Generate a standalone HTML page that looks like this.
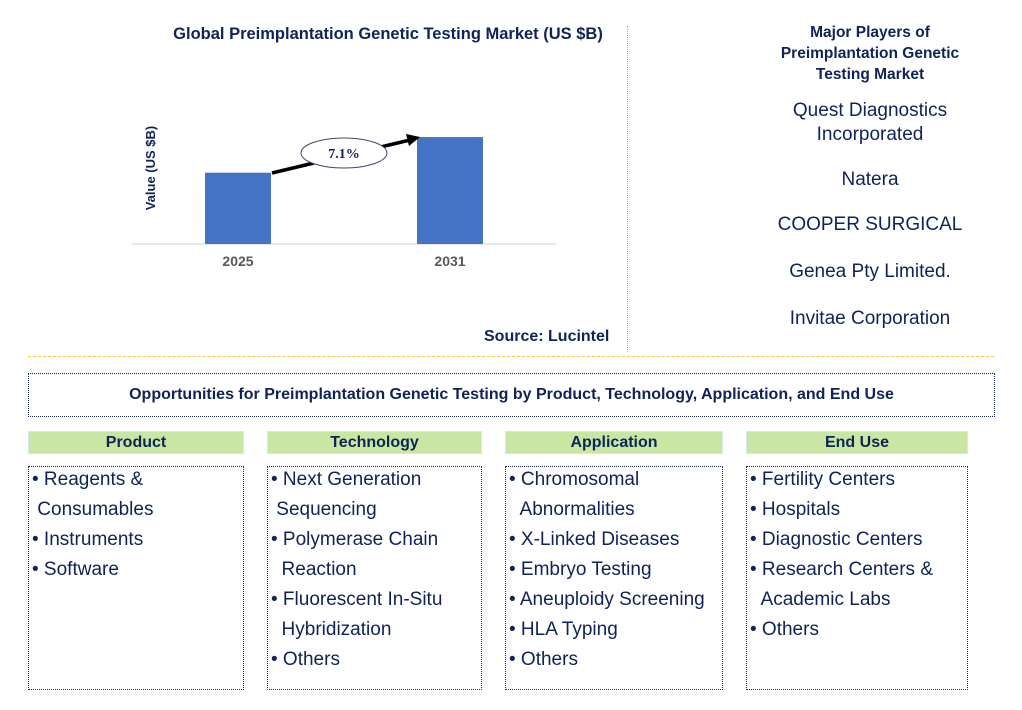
<!DOCTYPE html>
<html><head><meta charset="utf-8"><style>
body{margin:0;width:1022px;height:710px;background:#fff;font-family:"Liberation Sans",sans-serif;position:relative;overflow:hidden;color:#0f2358}
.a{position:absolute}
.hdr{position:absolute;top:431px;height:23px;background:#c9e6a3;border:1px solid #d5e4f3;box-sizing:border-box;text-align:center;font-weight:bold;font-size:16px;line-height:21px;color:#0f2358}
.box{position:absolute;top:466px;height:224px;border:1px dotted #1b2a5c;box-sizing:border-box;font-size:19px;line-height:30px;color:#0f2358;padding:0 0 0 3px}
.box div{white-space:nowrap}
.pl{position:absolute;left:735px;width:270px;text-align:center;font-size:19px;color:#0f2358;line-height:24px}
</style></head><body>
<div class="a" style="left:138px;top:25px;width:500px;text-align:center;font-weight:bold;font-size:16.5px">Global Preimplantation Genetic Testing Market (US $B)</div>
<svg class="a" style="left:0;top:0" width="630" height="350">
<line x1="132" y1="244" x2="556" y2="244" stroke="#d0d0d0"/>
<text transform="translate(155,168) rotate(-90)" text-anchor="middle" font-size="13" font-weight="bold" fill="#0f2358" font-family="Liberation Sans">Value (US $B)</text>
<g id="bars"></g>
<line x1="272" y1="173" x2="410" y2="140" stroke="#000" stroke-width="3.5"/>
<polygon points="420,137 406,134 409,146" fill="#000"/>
<ellipse cx="344" cy="153" rx="43" ry="15" fill="#fff" stroke="#3a4a6a"/>
<text x="344" y="158" text-anchor="middle" font-size="14" font-family="Liberation Serif" font-weight="bold" fill="#0f2358">7.1%</text>
</svg>
<div class="a" style="left:484px;top:328px;font-weight:bold;font-size:16px">Source: Lucintel</div>
<div class="a" style="left:627px;top:26px;height:326px;border-left:1px dotted #aaa"></div>
<div class="a" style="left:755px;top:22px;width:230px;text-align:center;font-weight:bold;font-size:15.5px;line-height:21px">Major Players of Preimplantation Genetic Testing Market</div>
<div class="pl" style="top:99px">Quest Diagnostics<br>Incorporated</div>
<div class="pl" style="top:168px">Natera</div>
<div class="pl" style="top:213px">COOPER SURGICAL</div>
<div class="pl" style="top:260px">Genea Pty Limited.</div>
<div class="pl" style="top:307px">Invitae Corporation</div>
<div class="a" style="left:28px;top:356px;width:966px;border-top:1px dashed #f5c842"></div>
<div class="a" style="left:28px;top:373px;width:967px;height:44px;border:1px dotted #1b2a5c;box-sizing:border-box;text-align:center;font-weight:bold;font-size:16px;line-height:42px">Opportunities for Preimplantation Genetic Testing by Product, Technology, Application, and End Use</div>
<div class="hdr" style="left:28px;width:216px">Product</div>
<div class="hdr" style="left:267px;width:215px">Technology</div>
<div class="hdr" style="left:505px;width:218px">Application</div>
<div class="hdr" style="left:746px;width:222px">End Use</div>
<div class="box" style="left:28px;width:216px;padding-top:0"><div style="margin-top:-2px">• Reagents &amp;</div><div>&nbsp;Consumables</div><div>• Instruments</div><div>• Software</div></div>
<div class="box" style="left:267px;width:215px"><div style="margin-top:-2px">• Next Generation</div><div>&nbsp;Sequencing</div><div>• Polymerase Chain</div><div>&nbsp;&nbsp;Reaction</div><div>• Fluorescent In-Situ</div><div>&nbsp;&nbsp;Hybridization</div><div>• Others</div></div>
<div class="box" style="left:505px;width:218px"><div style="margin-top:-2px">• Chromosomal</div><div>&nbsp;&nbsp;Abnormalities</div><div>• X-Linked Diseases</div><div>• Embryo Testing</div><div>• Aneuploidy Screening</div><div>• HLA Typing</div><div>• Others</div></div>
<div class="box" style="left:746px;width:222px"><div style="margin-top:-2px">• Fertility Centers</div><div>• Hospitals</div><div>• Diagnostic Centers</div><div>• Research Centers &amp;</div><div>&nbsp;&nbsp;Academic Labs</div><div>• Others</div></div>
<script>
const categories=["2025","2031"];
const values=[1.0,1.5];
const NS="http://www.w3.org/2000/svg";
const g=document.getElementById("bars");
const xPos=i=>205+i*212;
const yPos=v=>244-v*71.3;
categories.forEach((c,i)=>{
 const r=document.createElementNS(NS,"rect");
 r.setAttribute("x",xPos(i));r.setAttribute("y",yPos(values[i]));
 r.setAttribute("width",66);r.setAttribute("height",244-yPos(values[i]));
 r.setAttribute("fill","#4472c4");
 
 
 g.appendChild(r);
 const t=document.createElementNS(NS,"text");
 t.setAttribute("x",xPos(i)+33);t.setAttribute("y",266);
 t.setAttribute("text-anchor","middle");t.setAttribute("font-size","14");
 t.setAttribute("font-weight","bold");t.setAttribute("fill","#595959");
 t.setAttribute("font-family","Liberation Sans");
 t.textContent=c;
 
 
 g.appendChild(t);
});
</script>
</body></html>
